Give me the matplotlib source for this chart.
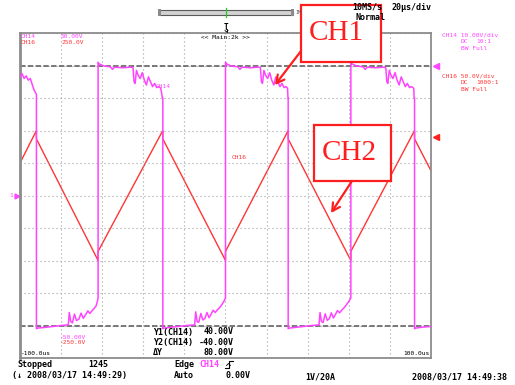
import matplotlib
matplotlib.use("Agg")
import matplotlib.pyplot as plt
from matplotlib.patches import Rectangle
import numpy as np

# --- data (time in us, volts) ---
# CH14: 10 V/div, clamped switching waveform with ringing
ch14_t = [-100, -99, -98, -97, -96, -95, -94, -93.2, -92.3, -92,
          -92, -91.5, -88, -84, -80, -76.5, -76, -75.3, -74.5, -73.5, -72.5, -71.3,
          -70.3, -69.2, -68.2, -67, -66, -65, -64, -63, -62.3, -62,
          -62, -61.5, -59, -56, -55, -54, -50, -46, -45, -44.5, -44, -43.3, -42.5,
          -41.5, -40.5, -39.5, -38.5, -37.5, -36.5, -35.5, -34.5, -33.5, -32.5,
          -31.5, -30.7, -30.5,
          -30.5, -30, -27, -23, -19, -15, -14.5, -13.8, -13, -12, -11, -10, -9, -8,
          -7, -6, -5, -4, -3, -2, -0.7, 0,
          0, 0.5, 3, 6, 7, 8, 12, 16, 17, 17.5, 18, 18.7, 19.5, 20.5, 21.5, 22.5,
          23.5, 24.5, 25.5, 26.5, 27.5, 28.5, 29.5, 30.2, 30.4, 30.5,
          30.5, 31, 34, 38, 42, 45.5, 46, 46.7, 47.5, 48.5, 49.5, 50.5, 51.5, 52.5,
          53.5, 54.5, 55.5, 56.5, 57.5, 58.5, 60, 61,
          61, 61.5, 64, 67, 68, 69, 73, 77, 78, 78.5, 79, 79.7, 80.5, 81.5, 82.5,
          83.5, 84.5, 85.5, 86.5, 87.5, 88.5, 89.5, 90.5, 91.6, 91.8, 92,
          92, 92.5, 96, 100]
ch14_v = [36.5, 37.5, 36, 36.8, 35.5, 36, 34, 32.5, 31.5, 31,
          -41, -40.8, -40.6, -40.3, -40.0, -39.8, -36.0, -38.8, -39.2, -36.5, -38.5, -38.0,
          -36.2, -37.8, -36.8, -35.5, -36.3, -35.5, -34.8, -34.0, -32.5, -31.5,
          41, 40.5, 39.8, 39.6, 38.8, 39.5, 39.3, 39.5, 39.3, 35.0, 34.5, 38.5, 37.0,
          36.0, 37.8, 35.5, 34.0, 36.5, 35.0, 33.5, 34.5, 33.2, 33.5,
          33.0, 30.0, 30.0,
          -41, -40.8, -40.6, -40.3, -40.0, -39.8, -35.8, -38.8, -39.0, -36.3, -38.3, -37.8,
          -36.0, -37.6, -36.5, -35.3, -36.0, -35.2, -34.6, -33.8, -32.5, -31.5,
          41, 40.5, 39.8, 39.6, 38.8, 39.5, 39.3, 39.5, 39.3, 35.0, 34.5, 38.5, 37.0,
          36.0, 37.8, 35.5, 34.0, 36.5, 35.0, 33.5, 34.5, 33.2, 33.5, 33.0, 30.0, 30.0,
          -41, -40.8, -40.6, -40.3, -40.0, -39.8, -36.0, -38.8, -39.1, -36.4, -38.4,
          -37.9, -36.1, -37.7, -36.6, -35.4, -36.1, -35.3, -34.7, -33.9, -32.6, -31.5,
          41, 40.5, 39.8, 39.6, 38.8, 39.5, 39.3, 39.5, 39.3, 35.0, 34.5, 38.5, 37.0,
          36.0, 37.8, 35.5, 34.0, 36.5, 35.0, 33.5, 34.5, 33.2, 33.5, 33.0, 30.0, 30.0,
          -41, -40.8, -40.5, -40.3]

# CH16: 50 V/div, triangle
ch16_t = [-100, -92, -92, -62, -62, -30.5, -30.5, 0, 0, 30.5, 30.5, 61, 61, 92, 92, 100]
ch16_v = [50, 100, 87, -100, -86, 100, 87, -100, -86, 100, 87, -100, -86, 100, 87, 38]

cursor_y = [40, -40]
time_ticks = np.arange(-100, 101, 20)
ch14_ticks = np.arange(-50, 51, 10)

MAG = "#FF44FF"
RED = "#FF3535"
BOXRED = "#FF1E1E"
MONO = "DejaVu Sans Mono"

fig = plt.figure(figsize=(5.15, 3.85), dpi=100)
W, H = 515, 385

ax = fig.add_axes([20 / W, (H - 358) / H, 411 / W, 325 / H])
ax.set_xlim(-100, 100)
ax.set_ylim(-50, 50)
ax.set_xticks(time_ticks)
ax.set_yticks(ch14_ticks)
ax.tick_params(length=0, labelbottom=False, labelleft=False)
ax.grid(True, color="#A0A0A0", linestyle=(0, (1, 2.6)), linewidth=0.8)
for s in ax.spines.values():
    s.set_color("#8C8C8C")
    s.set_linewidth(1.3)
ax.spines["left"].set_linewidth(2.0)

for cy in cursor_y:
    ax.axhline(cy, color="#6E6E6E", linestyle=(0, (3, 1.3)), linewidth=1.3, zorder=2)

ax2 = ax.twinx()
ax2.set_ylim(-250, 250)
ax2.set_yticks([])
for s in ax2.spines.values():
    s.set_visible(False)

ax2.plot(ch16_t, ch16_v, color=RED, linewidth=1.0, zorder=3)
ax.plot(ch14_t, ch14_v, color=MAG, linewidth=1.1, zorder=4)
ax.set_zorder(2)
ax2.set_zorder(1)
ax.patch.set_visible(False)
ax2.patch.set_visible(True)
ax2.patch.set_facecolor("white")

ax.text(-30.4, 33.6, "CH14", color=MAG, fontsize=4.5, family=MONO, ha="center", va="center")
ax2.text(3, 58, "CH16", color=RED, fontsize=4.5, family=MONO, ha="left", va="center")

# level markers on the sides
ax.plot([1.012], [40], marker="<", color=MAG, markersize=4.5,
        transform=ax.get_yaxis_transform(), clip_on=False)
ax2.plot([1.012], [90], marker="<", color="#FF2020", markersize=4.5,
         transform=ax2.get_yaxis_transform(), clip_on=False)
ax.plot([-0.008], [0], marker=">", color=MAG, markersize=3.5,
        transform=ax.get_yaxis_transform(), clip_on=False)
ax.text(-0.022, 0, "1", color=MAG, fontsize=4.5, family=MONO, ha="center", va="center",
        transform=ax.get_yaxis_transform(), clip_on=False)

# overlay in screen pixels for the scope's readouts
ov = fig.add_axes([0, 0, 1, 1])
ov.set_xlim(0, W)
ov.set_ylim(H, 0)
ov.axis("off")
ov.set_zorder(10)
ov.patch.set_visible(False)


def t(x, y, s, size=6, color="black", ha="left", z=5, **kw):
    ov.text(x, y, s, fontsize=size, color=color, family=MONO, ha=ha, va="center", zorder=z, **kw)


# memory bar on top
ov.add_patch(Rectangle((159, 9.5), 134, 5.5, facecolor="#D2D2D2", edgecolor="#5A5A5A", lw=0.8, zorder=2))
ov.add_patch(Rectangle((157.5, 8.5), 3, 7.5, facecolor="#8A8A8A", edgecolor="none", zorder=3))
ov.add_patch(Rectangle((291, 8.5), 3, 7.5, facecolor="#8A8A8A", edgecolor="none", zorder=3))
ov.plot([225.7, 225.7], [8, 17], color="#22CC22", lw=0.9, zorder=4)
t(295, 12, "1M", size=3.5, color="#555555")
t(225.5, 27, "T", size=5.5, ha="center", weight="bold")
# small trigger arrow under the T
ov.plot([226.5, 226.5], [28.5, 32], color="black", lw=0.6)
ov.plot([225, 226.5, 228], [30.5, 32, 30.5], color="black", lw=0.6)
t(225.5, 37.5, "<< Main:2k >>", size=4.5, ha="center")

# top-left scale labels
t(21, 36.7, "CH14", size=4.5, color=MAG)
t(61, 36.7, "50.00V", size=4.5, color=MAG)
t(21, 42.3, "CH16", size=4.5, color=RED)
t(61, 42.3, "250.0V", size=4.5, color=RED)
t(60, 337.7, "-50.00V", size=4.5, color=MAG)
t(60, 342.8, "-250.0V", size=4.5, color=RED)
t(21, 353.3, "-100.0us", size=4.5)
t(430, 353.3, "100.0us", size=4.5, ha="right")

# right panel
t(442, 35.3, "CH14 10.00V/div", size=4.5, color=MAG)
t(461, 41.8, "DC", size=4.5, color=MAG)
t(476, 41.8, "10:1", size=4.5, color=MAG)
t(461, 48.3, "BW Full", size=4.5, color=MAG)
t(442, 76, "CH16 50.0V/div", size=4.5, color=RED)
t(461, 82.6, "DC", size=4.5, color=RED)
t(476, 82.6, "1000:1", size=4.5, color=RED)
t(461, 89.3, "BW Full", size=4.5, color=RED)

# cursor readout
rows = [("Y1(CH14)", "40.00V"), ("Y2(CH14)", "-40.00V"), ("\u0394Y", "80.00V")]
for i, (lab, val) in enumerate(rows):
    t(153, 332 + 10.3 * i, lab, weight="bold")
    t(234, 332 + 10.3 * i, val, ha="right", weight="bold")

# status line
t(17, 364.3, "Stopped", weight="bold")
t(88, 364.3, "1245", weight="bold")
t(12.5, 375.3, "(\u2193 2008/03/17 14:49:29)", weight="bold")
t(174, 364.3, "Edge", weight="bold")
t(199, 364.3, "CH14", color=MAG, weight="bold")
ov.plot([224.5, 228.5, 228.5, 232.5], [368, 368, 360.5, 360.5], color="black", lw=0.8)
ov.plot([226.5, 228.5, 230.5], [365.5, 363.5, 365.5], color="black", lw=0.6)
t(174, 375.3, "Auto", weight="bold")
t(251, 375.3, "0.00V", ha="right", weight="bold")
t(305, 376.5, "1V/20A", weight="bold")
t(411.5, 376.5, "2008/03/17 14:49:38", weight="bold")

# annotation boxes
ov.add_patch(Rectangle((301, 5), 80, 57, facecolor="white", edgecolor=BOXRED, lw=1.6, zorder=3))
ov.add_patch(Rectangle((313.5, 124.5), 77.5, 56.5, facecolor="white", edgecolor=BOXRED, lw=1.6, zorder=3))
ov.text(336, 33, "CH1", fontsize=21, color=BOXRED, family="Liberation Serif",
        ha="center", va="center", zorder=4)
ov.text(349, 153, "CH2", fontsize=21, color=BOXRED, family="Liberation Serif",
        ha="center", va="center", zorder=4)
arrow = dict(arrowstyle="->,head_length=0.55,head_width=0.3", color=BOXRED, lw=1.6,
             shrinkA=0, shrinkB=0)
ov.annotate("", xy=(275, 85), xytext=(301, 51), arrowprops=arrow, zorder=4)
ov.annotate("", xy=(331, 213), xytext=(352, 181), arrowprops=arrow, zorder=4)

# sample-rate text sits over the CH1 box
t(352, 7.5, "10MS/s", size=6, z=6, weight="bold")
t(392, 7.5, "20\u00b5s/div", size=6, z=6, weight="bold")
t(355, 17.5, "Normal", size=6, z=6, weight="bold")

fig.savefig("out.png", dpi=100)
plt.close(fig)
